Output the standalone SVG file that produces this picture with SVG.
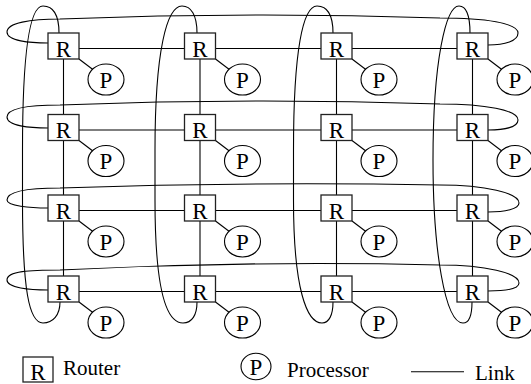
<svg xmlns="http://www.w3.org/2000/svg" width="531" height="384" viewBox="0 0 531 384">
  <style>
    .ln { fill: none; stroke: #000; stroke-width: 1.1; }
    .box { fill: #fff; stroke: #222; stroke-width: 1.3; }
    .pe { fill: #fff; stroke: #000; stroke-width: 1.1; }
    .lbl { font-size: 23px; fill: #000; text-anchor: middle; }
    .leg { font-size: 21px; fill: #000; }
  </style>
  <rect width="531" height="384" fill="#fff"/>

  <!-- links, wraparound loops and router-processor attachments -->
  <g id="connectors" class="ln">
    <!-- row links -->
    <line x1="48" y1="48.5" x2="488" y2="48.5"/>
    <line x1="48" y1="130" x2="488" y2="130"/>
    <line x1="48" y1="210.5" x2="488" y2="210.5"/>
    <line x1="48" y1="291.5" x2="488" y2="291.5"/>
    <!-- column links -->
    <line x1="63.5" y1="33" x2="63.5" y2="302"/>
    <line x1="200" y1="33" x2="200" y2="302"/>
    <line x1="336.5" y1="33" x2="336.5" y2="302"/>
    <line x1="472.5" y1="33" x2="472.5" y2="302"/>
    <!-- row wraparound loops -->
    <path d="M48,43 C30,43 7,41 7,32 C7,23 30,19 60,19 Q250,11.5 440,18 C485,18 518,23 518,33 C518,41 505,45 488,45"/>
    <path d="M48,128 C30,128 7,126 7,117 C7,108 30,105 60,105 Q250,97.5 440,104 C485,104 518,110 518,120 C518,127 505,130 488,130"/>
    <path d="M48,208 C30,208 7,206 7,200 C7,191 30,188 60,188 Q250,181.5 440,185 C485,185 519,193 519,203 C519,209 505,212 488,212"/>
    <path d="M48,290 C30,290 7,288 7,280 C7,271 30,270 60,270 Q250,260.5 440,265 C485,265 519,273 519,283 C519,289 505,291 488,291"/>
    <!-- column wraparound loops -->
    <path d="M59,33 C59,15 53,6 43,6 C30,6 22.5,50 22.5,150 L22.5,200 C22.5,290 29,323 43,323 C53,323 60,315 60,302"/>
    <path d="M197,33 C197,15 191,6 182,6 C167,6 155,50 155,150 L155,200 C155,290 166,323 183,323 C192,323 197,315 197,302"/>
    <path d="M333,33 C333,15 327,6 317,6 C303,6 293.5,50 293.5,150 L293.5,200 C293.5,290 307,323 322,323 C329,323 333,315 333,302"/>
    <path d="M470,33 C470,15 466,6 459,6 C446,6 433,60 433,160 C433,250 445,323 463,323 C469,323 472,315 472,302"/>
    <!-- router to processor -->
    <line x1="79" y1="59" x2="106" y2="79.5"/>
    <line x1="215.5" y1="59" x2="242.5" y2="79.5"/>
    <line x1="352" y1="59" x2="379" y2="79.5"/>
    <line x1="488" y1="59" x2="515" y2="79.5"/>
    <line x1="79" y1="140.5" x2="106" y2="161"/>
    <line x1="215.5" y1="140.5" x2="242.5" y2="161"/>
    <line x1="352" y1="140.5" x2="379" y2="161"/>
    <line x1="488" y1="140.5" x2="515" y2="161"/>
    <line x1="79" y1="221" x2="106" y2="241.5"/>
    <line x1="215.5" y1="221" x2="242.5" y2="241.5"/>
    <line x1="352" y1="221" x2="379" y2="241.5"/>
    <line x1="488" y1="221" x2="515" y2="241.5"/>
    <line x1="79" y1="302" x2="106" y2="322.5"/>
    <line x1="215.5" y1="302" x2="242.5" y2="322.5"/>
    <line x1="352" y1="302" x2="379" y2="322.5"/>
    <line x1="488" y1="302" x2="515" y2="322.5"/>
  </g>

  <g font-family="'Liberation Serif', 'DejaVu Serif', 'Times New Roman', serif">
  <!-- routers -->
  <g id="r11"><rect class="box" x="48" y="33" width="31" height="26"/><text class="lbl" x="63.5" y="56.5">R</text></g>
  <g id="r12"><rect class="box" x="184.5" y="33" width="31" height="26"/><text class="lbl" x="200" y="56.5">R</text></g>
  <g id="r13"><rect class="box" x="321" y="33" width="31" height="26"/><text class="lbl" x="336.5" y="56.5">R</text></g>
  <g id="r14"><rect class="box" x="457" y="33" width="31" height="26"/><text class="lbl" x="472.5" y="56.5">R</text></g>
  <g id="r21"><rect class="box" x="48" y="114.5" width="31" height="26"/><text class="lbl" x="63.5" y="138">R</text></g>
  <g id="r22"><rect class="box" x="184.5" y="114.5" width="31" height="26"/><text class="lbl" x="200" y="138">R</text></g>
  <g id="r23"><rect class="box" x="321" y="114.5" width="31" height="26"/><text class="lbl" x="336.5" y="138">R</text></g>
  <g id="r24"><rect class="box" x="457" y="114.5" width="31" height="26"/><text class="lbl" x="472.5" y="138">R</text></g>
  <g id="r31"><rect class="box" x="48" y="195" width="31" height="26"/><text class="lbl" x="63.5" y="218.5">R</text></g>
  <g id="r32"><rect class="box" x="184.5" y="195" width="31" height="26"/><text class="lbl" x="200" y="218.5">R</text></g>
  <g id="r33"><rect class="box" x="321" y="195" width="31" height="26"/><text class="lbl" x="336.5" y="218.5">R</text></g>
  <g id="r34"><rect class="box" x="457" y="195" width="31" height="26"/><text class="lbl" x="472.5" y="218.5">R</text></g>
  <g id="r41"><rect class="box" x="48" y="276" width="31" height="26"/><text class="lbl" x="63.5" y="299.5">R</text></g>
  <g id="r42"><rect class="box" x="184.5" y="276" width="31" height="26"/><text class="lbl" x="200" y="299.5">R</text></g>
  <g id="r43"><rect class="box" x="321" y="276" width="31" height="26"/><text class="lbl" x="336.5" y="299.5">R</text></g>
  <g id="r44"><rect class="box" x="457" y="276" width="31" height="26"/><text class="lbl" x="472.5" y="299.5">R</text></g>

  <!-- processors -->
  <g id="p11"><ellipse class="pe" cx="106" cy="79.5" rx="18" ry="15.5"/><text class="lbl" x="106" y="87.5">P</text></g>
  <g id="p12"><ellipse class="pe" cx="242.5" cy="79.5" rx="18" ry="15.5"/><text class="lbl" x="242.5" y="87.5">P</text></g>
  <g id="p13"><ellipse class="pe" cx="379" cy="79.5" rx="18" ry="15.5"/><text class="lbl" x="379" y="87.5">P</text></g>
  <g id="p14"><ellipse class="pe" cx="515" cy="79.5" rx="18" ry="15.5"/><text class="lbl" x="515" y="87.5">P</text></g>
  <g id="p21"><ellipse class="pe" cx="106" cy="161" rx="18" ry="15.5"/><text class="lbl" x="106" y="169">P</text></g>
  <g id="p22"><ellipse class="pe" cx="242.5" cy="161" rx="18" ry="15.5"/><text class="lbl" x="242.5" y="169">P</text></g>
  <g id="p23"><ellipse class="pe" cx="379" cy="161" rx="18" ry="15.5"/><text class="lbl" x="379" y="169">P</text></g>
  <g id="p24"><ellipse class="pe" cx="515" cy="161" rx="18" ry="15.5"/><text class="lbl" x="515" y="169">P</text></g>
  <g id="p31"><ellipse class="pe" cx="106" cy="241.5" rx="18" ry="15.5"/><text class="lbl" x="106" y="249.5">P</text></g>
  <g id="p32"><ellipse class="pe" cx="242.5" cy="241.5" rx="18" ry="15.5"/><text class="lbl" x="242.5" y="249.5">P</text></g>
  <g id="p33"><ellipse class="pe" cx="379" cy="241.5" rx="18" ry="15.5"/><text class="lbl" x="379" y="249.5">P</text></g>
  <g id="p34"><ellipse class="pe" cx="515" cy="241.5" rx="18" ry="15.5"/><text class="lbl" x="515" y="249.5">P</text></g>
  <g id="p41"><ellipse class="pe" cx="106" cy="322.5" rx="18" ry="15.5"/><text class="lbl" x="106" y="330.5">P</text></g>
  <g id="p42"><ellipse class="pe" cx="242.5" cy="322.5" rx="18" ry="15.5"/><text class="lbl" x="242.5" y="330.5">P</text></g>
  <g id="p43"><ellipse class="pe" cx="379" cy="322.5" rx="18" ry="15.5"/><text class="lbl" x="379" y="330.5">P</text></g>
  <g id="p44"><ellipse class="pe" cx="515" cy="322.5" rx="18" ry="15.5"/><text class="lbl" x="515" y="330.5">P</text></g>

  <!-- legend -->
  <g id="legend">
    <rect class="box" x="23" y="357" width="30" height="25"/>
    <text class="lbl" x="38" y="380">R</text>
    <text class="leg" x="63" y="375">Router</text>
    <ellipse class="pe" cx="256" cy="366.5" rx="15" ry="13.3"/>
    <text class="lbl" x="256" y="375">P</text>
    <text class="leg" x="287" y="376.5">Processor</text>
    <line class="ln" x1="411" y1="371.7" x2="464" y2="371.7"/>
    <text class="leg" x="475" y="379.5">Link</text>
  </g>
  </g>
</svg>
